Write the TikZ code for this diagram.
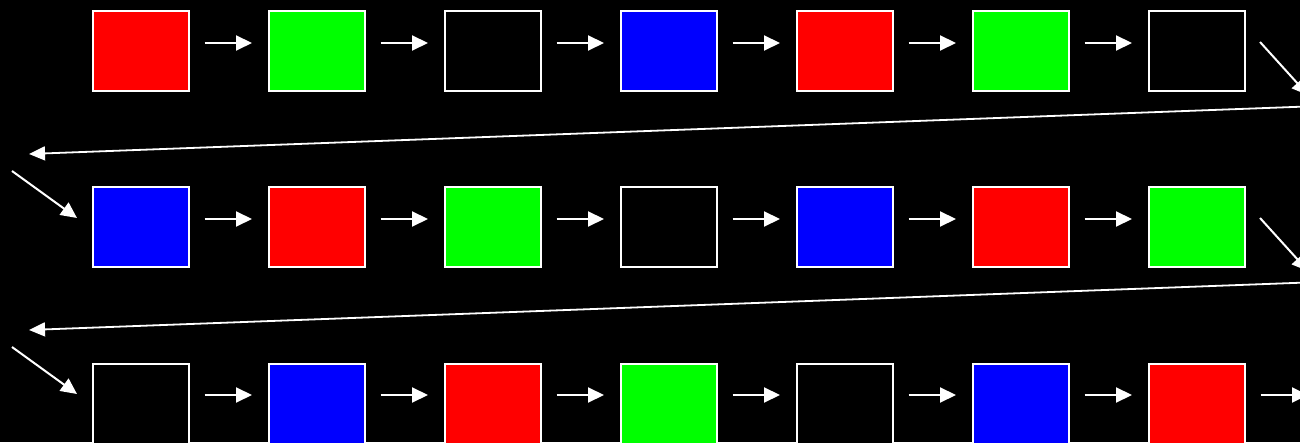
\documentclass[tikz,border=0pt]{standalone}
\usetikzlibrary{arrows.meta}
\definecolor{cR}{RGB}{255,0,0}
\definecolor{cG}{RGB}{0,255,0}
\definecolor{cB}{RGB}{0,0,255}
\definecolor{cK}{RGB}{0,0,0}
\begin{document}
\begin{tikzpicture}[x=1pt,y=1pt,
  sq/.style={draw=white, line width=2pt, minimum width=96pt, minimum height=80pt, inner sep=0pt, outer sep=0pt},
  arr/.style={draw=white, line width=2pt, -{Triangle[length=16pt,width=15pt]}},
  back/.style={draw=white, line width=1.8pt, -{Triangle[length=16pt,width=14pt]}}]
\fill[black] (0,0) rectangle (1300,442);
\useasboundingbox (0,0) rectangle (1300,442);
\clip (0,0) rectangle (1300,442);
% boxes
\foreach \c [count=\i from 0] in {cR,cG,cK,cB,cR,cG,cK}
  \node[sq, fill=\c] (b0\i) at (141+176*\i, 390.5) {};
\foreach \c [count=\i from 0] in {cB,cR,cG,cK,cB,cR,cG}
  \node[sq, fill=\c] (b1\i) at (141+176*\i, 214.5) {};
\foreach \c [count=\i from 0] in {cK,cB,cR,cG,cK,cB,cR}
  \node[sq, fill=\c] (b2\i) at (141+176*\i, 38.5) {};
% horizontal arrows
\foreach \r in {0,1,2}
  \foreach \i/\j in {0/1,1/2,2/3,3/4,4/5,5/6}
    \draw[arr] ([xshift=15.5pt,yshift=8.5pt]b\r\i.east) -- ([xshift=-17pt,yshift=8.5pt]b\r\j.west);
% row connectors
\coordinate (r0s) at (1260,400); \coordinate (r0e) at (1308,347);
\coordinate (l0s) at (1320,336); \coordinate (l0e) at (29,288);
\coordinate (d0s) at (12,271);   \coordinate (d0e) at (77,224);
\coordinate (r1s) at (1260,224); \coordinate (r1e) at (1308,171);
\coordinate (l1s) at (1320,160); \coordinate (l1e) at (29,112);
\coordinate (d1s) at (12,95);    \coordinate (d1e) at (77,48);
\coordinate (endc) at (1308,47);
\draw[arr] (r0s) -- (r0e);
\draw[back] (l0s) -- (l0e);
\draw[arr] (d0s) -- (d0e);
\draw[arr] (r1s) -- (r1e);
\draw[back] (l1s) -- (l1e);
\draw[arr] (d1s) -- (d1e);
\draw[arr] ([xshift=15.5pt,yshift=8.5pt]b26.east) -- (endc);
\end{tikzpicture}
\end{document}
